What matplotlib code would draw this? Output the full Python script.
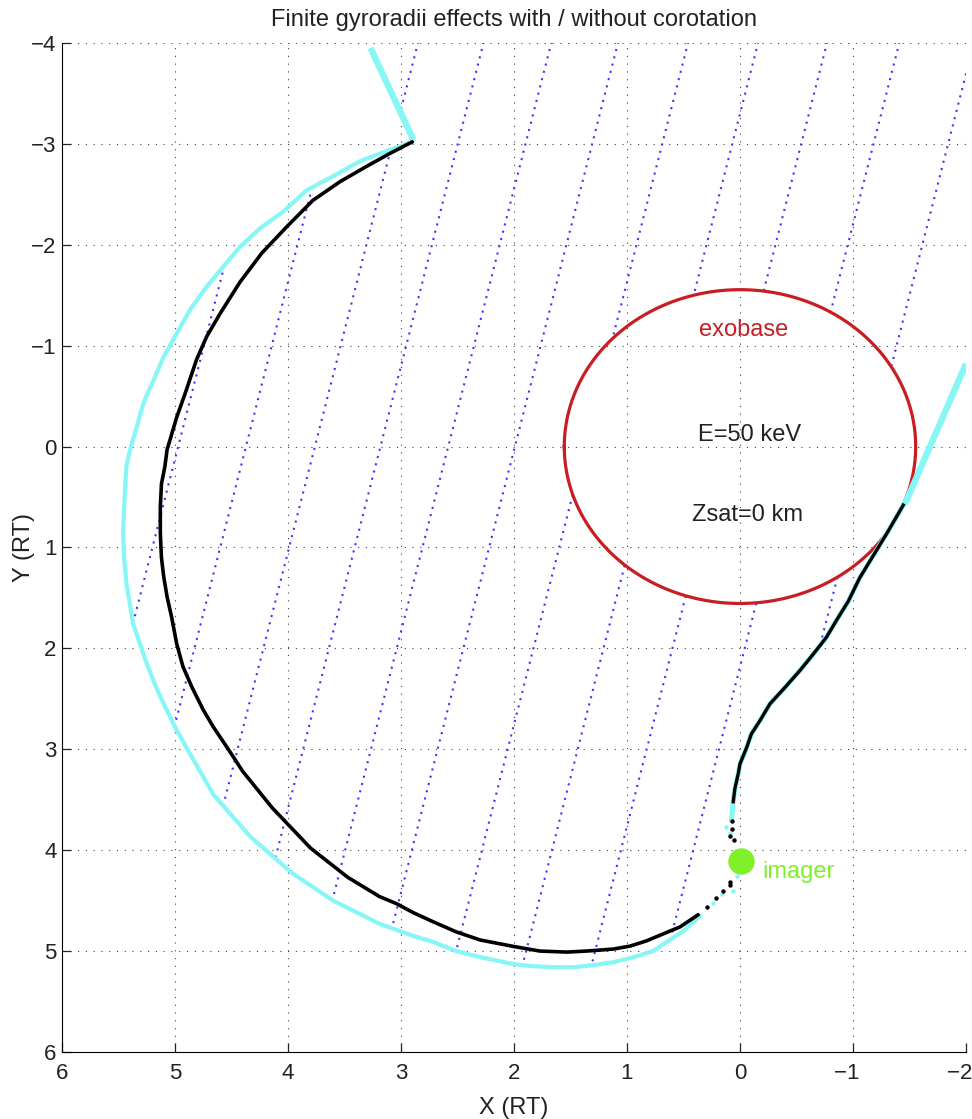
import matplotlib.pyplot as plt
import numpy as np
from matplotlib.path import Path

plt.rcParams['font.family'] = ['Liberation Sans', 'DejaVu Sans']

# trajectory without corotation (cyan)
cyan_x = [2.90, 3.10, 3.36, 3.60, 3.835, 4.04, 4.25, 4.425, 4.575, 4.72, 4.87, 4.985,
          5.10, 5.19, 5.28, 5.34, 5.40, 5.43, 5.44, 5.45, 5.46, 5.45, 5.43, 5.40,
          5.37, 5.31, 5.25, 5.18, 5.10, 5.00, 4.90, 4.66, 4.33, 3.96, 3.60, 3.19,
          3.04, 2.89, 2.715, 2.51, 2.30, 2.00, 1.83, 1.65, 1.475, 1.30, 1.12, 0.94,
          0.77, 0.50, 0.35]
cyan_y = [-3.02, -2.94, -2.83, -2.68, -2.54, -2.33, -2.16, -1.98, -1.78, -1.585, -1.35, -1.12,
          -0.89, -0.66, -0.43, -0.19, 0.04, 0.20, 0.37, 0.60, 0.86, 1.10, 1.36, 1.56,
          1.76, 1.955, 2.15, 2.35, 2.55, 2.78, 2.98, 3.45, 3.87, 4.23, 4.50, 4.73,
          4.79, 4.85, 4.91, 5.00, 5.06, 5.13, 5.15, 5.16, 5.16, 5.14, 5.11, 5.06,
          5.00, 4.80, 4.65]
# sparse cyan dots around the imager
cyan_dot_x = [0.235, 0.16, 0.06, 0.03, 0.085, 0.12]
cyan_dot_y = [4.52, 4.43, 4.40, 4.26, 3.83, 3.77]
# upper branch, up to the exobase
cyan_up_x = [0.075, 0.06, 0.045, 0.015, 0.0, -0.06, -0.10, -0.18, -0.265, -0.40, -0.53,
             -0.65, -0.765, -0.855, -0.96, -1.06, -1.18, -1.30, -1.445]
cyan_up_y = [3.70, 3.52, 3.39, 3.24, 3.145, 2.98, 2.85, 2.71, 2.55, 2.385, 2.22,
             2.055, 1.89, 1.72, 1.53, 1.30, 1.08, 0.86, 0.58]
# straight cyan pieces at both ends
seg_top_x = [3.27, 2.89]
seg_top_y = [-3.95, -3.04]
seg_right_x = [-1.46, -2.0]
seg_right_y = [0.57, -0.82]

# trajectory with corotation (black)
black_x = [2.90, 3.097, 3.30, 3.54, 3.78, 4.01, 4.23, 4.425, 4.60, 4.72, 4.81, 4.90,
           4.985, 5.07, 5.09, 5.12, 5.13, 5.13, 5.12, 5.10, 5.07, 5.03, 4.985, 4.93,
           4.85, 4.75, 4.66, 4.54, 4.40, 4.14, 3.80, 3.47, 3.19, 3.04, 2.89, 2.715,
           2.51, 2.30, 2.00, 1.77, 1.53, 1.36, 1.12, 0.97, 0.83, 0.68, 0.53, 0.37]
black_y = [-3.02, -2.906, -2.78, -2.625, -2.44, -2.18, -1.92, -1.63, -1.32, -1.09, -0.86, -0.56,
           -0.29, 0.03, 0.20, 0.37, 0.60, 0.86, 1.10, 1.29, 1.49, 1.69, 1.955, 2.18,
           2.385, 2.61, 2.78, 2.98, 3.22, 3.58, 3.98, 4.27, 4.46, 4.53, 4.62, 4.71,
           4.81, 4.89, 4.955, 5.00, 5.01, 5.00, 4.98, 4.95, 4.90, 4.83, 4.76, 4.64]
black_dot_x = [0.295, 0.21, 0.15, 0.09, 0.09, 0.05, 0.085, 0.075, 0.07]
black_dot_y = [4.565, 4.47, 4.40, 4.35, 4.32, 3.90, 3.86, 3.79, 3.71]
black_up_x = cyan_up_x[1:]
black_up_y = cyan_up_y[1:]

# dotted field lines: x where each crosses y=-4, common slope dx/dy
line_x_top = [4.06, 3.46, 2.85, 2.27, 1.67, 1.08, 0.46, -0.16, -0.77, -1.41, -2.07]
line_slope = 0.228

exo_r = 1.555
imager = (-0.006, 4.11)
XLIM = (6, -2)
YLIM = (6, -4)
x_ticks = list(range(-2, 7))
y_ticks = list(range(-4, 7))

fig = plt.figure(figsize=(9.72, 11.19), dpi=100)
ax = fig.add_axes([0.0638, 0.0599, 0.930, 0.9017])

# region in which field lines are drawn: inside the cyan envelope
px = (cyan_x + cyan_dot_x + cyan_up_x + [seg_right_x[1]]
      + [XLIM[1] - 0.6, XLIM[1] - 0.6])
py = (cyan_y + cyan_dot_y + cyan_up_y + [seg_right_y[1]]
      + [seg_right_y[1], YLIM[1] - 0.6])
k = (seg_top_x[0] - seg_top_x[1]) / (seg_top_y[0] - seg_top_y[1])
px += [seg_top_x[0] + k * (YLIM[1] - 0.6 - seg_top_y[0]), seg_top_x[0]]
py += [YLIM[1] - 0.6, seg_top_y[0]]
region = Path(np.column_stack([px, py]))

yy = np.linspace(-4.3, 6, 2000)
for xt in line_x_top:
    xx = xt + line_slope * (yy + 4)
    inside = region.contains_points(np.column_stack([xx, yy]))
    inside &= (xx ** 2 + yy ** 2) > exo_r ** 2
    ax.plot(np.where(inside, xx, np.nan), yy, color='#4330ff',
            lw=1.5, ls=(0, (1.0, 2.6)), zorder=2)

t = np.linspace(0, 2 * np.pi, 400)
ax.plot(exo_r * np.cos(t), exo_r * np.sin(t), color='#c81d22', lw=2.3, zorder=3)

cyan = '#86f6f6'
ax.plot(cyan_x, cyan_y, color=cyan, lw=3.0, solid_capstyle='round',
        solid_joinstyle='round', zorder=4)
ax.plot(cyan_dot_x, cyan_dot_y, 'o', color=cyan, ms=3.2, mec='none', zorder=4)
ax.plot(cyan_up_x, cyan_up_y, color=cyan, lw=3.6, solid_joinstyle='round', zorder=4)
ax.plot(seg_top_x, seg_top_y, color=cyan, lw=4.6, zorder=4, solid_capstyle='butt')
ax.plot(seg_right_x, seg_right_y, color=cyan, lw=4.6, zorder=4, solid_capstyle='butt')

ax.plot(black_x, black_y, color='k', lw=2.6, solid_capstyle='round',
        solid_joinstyle='round', zorder=5)
ax.plot(black_dot_x, black_dot_y, 'o', color='k', ms=3.2, mec='none', zorder=5)
ax.plot(black_up_x, black_up_y, color='k', lw=2.4, solid_joinstyle='round', zorder=5)

ax.plot(*imager, 'o', color='#80f02a', ms=19, mec='none', zorder=6)
ax.text(-0.195, 4.22, 'imager', color='#80f02a', fontsize=17, ha='left', va='center')
ax.text(-0.035, -1.16, 'exobase', color='#c81d22', fontsize=17, ha='center', va='center')
ax.text(-0.088, -0.11, 'E=50 keV', color='#222222', fontsize=17, ha='center', va='center')
ax.text(-0.066, 0.68, 'Zsat=0 km', color='#222222', fontsize=17, ha='center', va='center')

ax.set_xlim(*XLIM)
ax.set_ylim(*YLIM)
ax.set_xticks(x_ticks)
# negative labels: digit centred on the tick, minus sign hanging left
ax.set_xticklabels([f'\u2212{-v}\u2007' if v < 0 else str(v) for v in x_ticks])
ax.set_yticks(y_ticks)
ax.set_yticklabels([f'\u2212{-v}' if v < 0 else str(v) for v in y_ticks])
ax.grid(True, color='0.25', lw=0.8, ls=(0, (1, 6)))
ax.set_axisbelow(True)
for s in ['top', 'right']:
    ax.spines[s].set_visible(False)
ax.tick_params(direction='in', length=6.5, width=0.9, labelsize=16, colors='#222222')
ax.tick_params(axis='x', pad=8)
ax.tick_params(axis='y', pad=4)
ax.set_xlabel('X (RT)', fontsize=17, color='#222222', labelpad=9)
ax.set_ylabel('Y (RT)', fontsize=17, color='#222222', labelpad=-3)
ax.set_title('Finite gyroradii effects with / without corotation', fontsize=17,
             color='#222222', pad=12)

fig.savefig('out.png', dpi=100)
